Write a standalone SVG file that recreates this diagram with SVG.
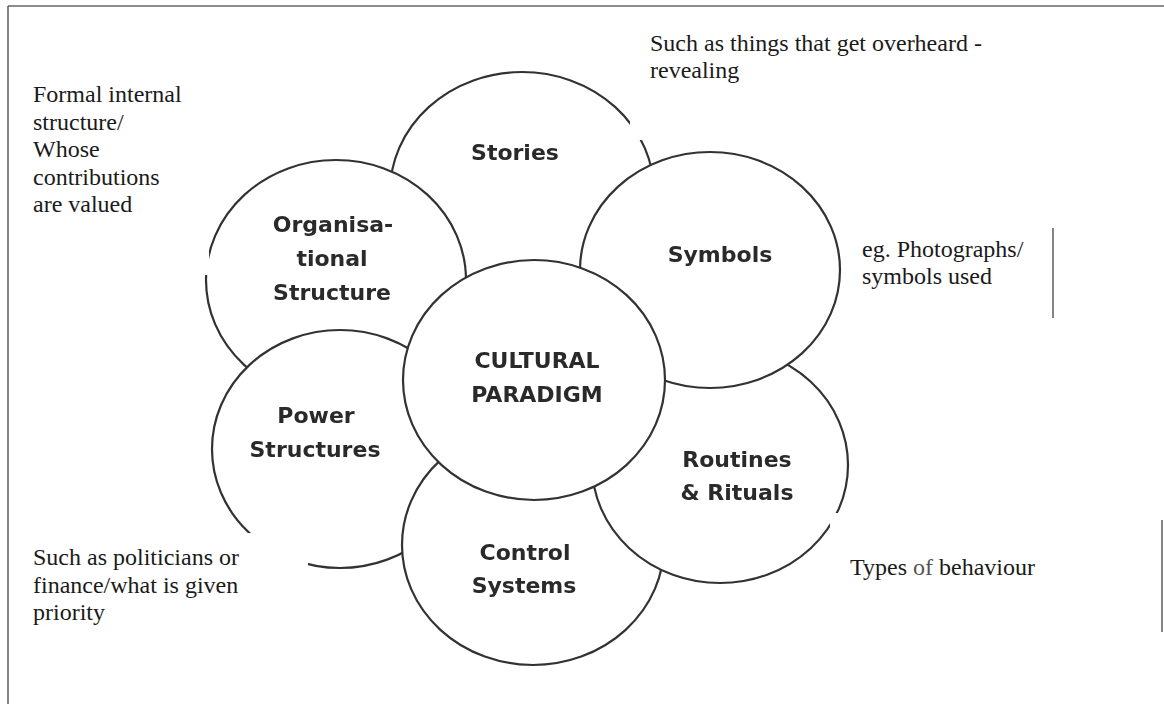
<svg xmlns="http://www.w3.org/2000/svg" width="1164" height="704" viewBox="0 0 1164 704">
  <defs>
    <filter id="soft" x="-5%" y="-5%" width="110%" height="110%">
      <feGaussianBlur stdDeviation="0.6"/>
    </filter>
    <style>
      .ring { fill: #ffffff; stroke: #333333; stroke-width: 2.2; }
      .lbl { font-family: "DejaVu Sans", "Liberation Sans", sans-serif; font-weight: bold; font-size: 22px; fill: #2b2b2b; text-anchor: middle; }
      .note { font-family: "Liberation Serif", "Times New Roman", serif; font-size: 24px; fill: #1a1a1a; }
      .mask { fill: #ffffff; stroke: none; }
      .edge { stroke: #666666; stroke-width: 1.6; fill: none; }
    </style>
  </defs>

  <rect x="0" y="0" width="1164" height="704" fill="#ffffff"/>

  <!-- page frame -->
  <g id="frame">
    <line class="edge" x1="8" y1="6" x2="1164" y2="6"/>
    <line class="edge" x1="8" y1="6" x2="8" y2="704"/>
  </g>

  <!-- petals, back to front, with the paradigm on top -->
  <g id="web" filter="url(#soft)">
    <g id="stories">
      <ellipse class="ring" cx="522" cy="192" rx="132" ry="120"/>
      <text class="lbl" x="515" y="160">Stories</text>
    </g>
    <g id="organisational">
      <ellipse class="ring" cx="336" cy="280" rx="130" ry="120"/>
      <text class="lbl" x="333" y="232">Organisa-</text>
      <text class="lbl" x="332" y="266">tional</text>
      <text class="lbl" x="332" y="300">Structure</text>
    </g>
    <g id="power">
      <ellipse class="ring" cx="340" cy="449" rx="128" ry="119"/>
      <text class="lbl" x="316" y="423">Power</text>
      <text class="lbl" x="315" y="457">Structures</text>
    </g>
    <g id="control">
      <ellipse class="ring" cx="533" cy="545" rx="131" ry="120"/>
      <text class="lbl" x="525" y="560">Control</text>
      <text class="lbl" x="524" y="593">Systems</text>
    </g>
    <g id="routines">
      <ellipse class="ring" cx="720" cy="465" rx="128" ry="118"/>
      <text class="lbl" x="737" y="467">Routines</text>
      <text class="lbl" x="737" y="500">&amp; Rituals</text>
    </g>
    <g id="symbols">
      <ellipse class="ring" cx="710" cy="270" rx="130" ry="118"/>
      <text class="lbl" x="720" y="262">Symbols</text>
    </g>
    <g id="paradigm">
      <ellipse class="ring" cx="534" cy="380" rx="131" ry="120"/>
      <text class="lbl" x="537" y="368">CULTURAL</text>
      <text class="lbl" x="537" y="402">PARADIGM</text>
    </g>
  </g>

  <!-- annotation boxes laid over the petals -->
  <g id="note-structure">
    <rect class="mask" x="10" y="20" width="199" height="255"/>
    <text class="note">
      <tspan x="33" y="102">Formal internal</tspan>
      <tspan x="33" y="130">structure/</tspan>
      <tspan x="33" y="157">Whose</tspan>
      <tspan x="33" y="185">contributions</tspan>
      <tspan x="33" y="212">are valued</tspan>
    </text>
  </g>
  <g id="note-stories">
    <rect class="mask" x="630" y="15" width="380" height="125"/>
    <text class="note">
      <tspan x="650" y="51">Such as things that get overheard -</tspan>
      <tspan x="650" y="78">revealing</tspan>
    </text>
  </g>
  <g id="note-symbols">
    <rect class="mask" x="845" y="222" width="208" height="98"/>
    <line class="edge" x1="1053" y1="228" x2="1053" y2="318"/>
    <text class="note">
      <tspan x="862" y="257">eg. Photographs/</tspan>
      <tspan x="862" y="284">symbols used</tspan>
    </text>
  </g>
  <g id="note-power">
    <rect class="mask" x="10" y="533" width="298" height="157"/>
    <text class="note">
      <tspan x="33" y="565">Such as politicians or</tspan>
      <tspan x="33" y="593">finance/what is given</tspan>
      <tspan x="33" y="620">priority</tspan>
    </text>
  </g>
  <g id="note-routines">
    <rect class="mask" x="830" y="513" width="332" height="119"/>
    <line class="edge" x1="1162" y1="520" x2="1162" y2="632"/>
    <text class="note" x="850" y="575">Types <tspan fill="#555555">of</tspan> behaviour</text>
  </g>
</svg>
